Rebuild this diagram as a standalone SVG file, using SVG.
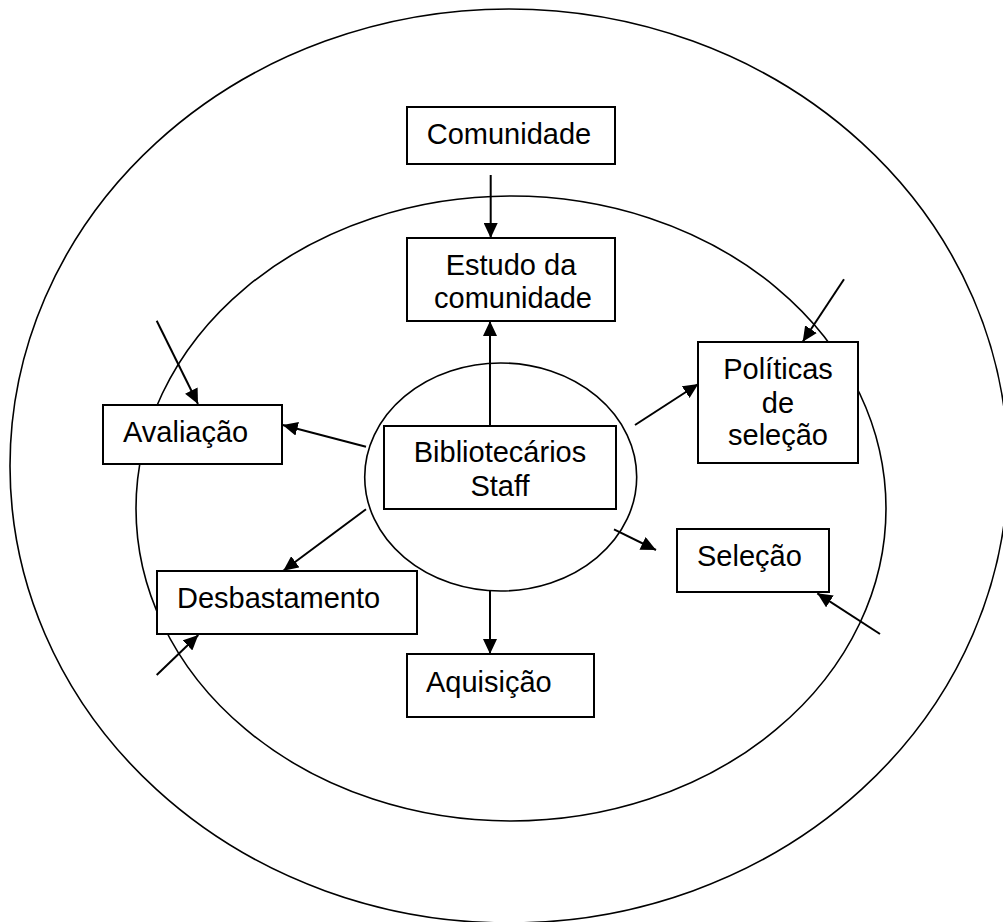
<svg xmlns="http://www.w3.org/2000/svg" width="1003" height="922" viewBox="0 0 1003 922">
<style>
.ring{fill:none;stroke:#000;stroke-width:1.6}
.box{fill:#fff;stroke:#000;stroke-width:2}
.lbl{font-family:"Liberation Sans",Arial,sans-serif;font-size:29px;fill:#000}
.c{text-anchor:middle}
.conn path{fill:none;stroke:#000;stroke-width:2;marker-end:url(#ah)}
</style>
<defs>
<marker id="ah" markerUnits="userSpaceOnUse" markerWidth="16" markerHeight="14" refX="15" refY="7" orient="auto">
<path d="M0,0 L15,7 L0,14 z" fill="#000"/>
</marker>
</defs>
<rect width="1003" height="922" fill="#fff"/>
<g id="rings">
<ellipse class="ring" cx="509" cy="466" rx="499" ry="457"/>
<ellipse class="ring" cx="511" cy="508.5" rx="375" ry="312.5"/>
<ellipse class="ring" cx="500.7" cy="477" rx="136" ry="114"/>
</g>
<g id="connectors" class="conn">
<path d="M490.7,175 L490.7,238"/>
<path d="M490,425.7 L490,321"/>
<path d="M366,446.7 L282.7,425"/>
<path d="M156.7,320.7 L198,404"/>
<path d="M635,425 L698.3,384"/>
<path d="M844,279.3 L802.7,341.7"/>
<path d="M366,509.3 L283.3,570.7"/>
<path d="M156.7,675 L198.3,635"/>
<path d="M614,529.3 L656,550"/>
<path d="M880,634 L817.3,593.3"/>
<path d="M490,591 L490,654"/>
</g>
<g id="comunidade">
<rect class="box" x="407" y="107" width="208" height="57"/>
<text class="lbl c" x="509" y="144">Comunidade</text>
</g>
<g id="estudo">
<rect class="box" x="407" y="238" width="208" height="83"/>
<text class="lbl c" x="511" y="275">Estudo da</text>
<text class="lbl c" x="513" y="308">comunidade</text>
</g>
<g id="bibliotecarios">
<rect class="box" x="384" y="426" width="232" height="83"/>
<text class="lbl c" x="500" y="462">Bibliotecários</text>
<text class="lbl c" x="500" y="496">Staff</text>
</g>
<g id="avaliacao">
<rect class="box" x="103" y="405" width="179" height="59"/>
<text class="lbl" x="123" y="442">Avaliação</text>
</g>
<g id="politicas">
<rect class="box" x="698" y="342" width="160" height="121"/>
<text class="lbl c" x="778" y="379">Políticas</text>
<text class="lbl c" x="778" y="413">de</text>
<text class="lbl c" x="778" y="445">seleção</text>
</g>
<g id="desbastamento">
<rect class="box" x="157" y="571" width="260" height="63"/>
<text class="lbl" x="177" y="608">Desbastamento</text>
</g>
<g id="selecao">
<rect class="box" x="677" y="529" width="152" height="63"/>
<text class="lbl" x="697" y="566">Seleção</text>
</g>
<g id="aquisicao">
<rect class="box" x="407" y="654" width="187" height="63"/>
<text class="lbl" x="426" y="692">Aquisição</text>
</g>
</svg>
